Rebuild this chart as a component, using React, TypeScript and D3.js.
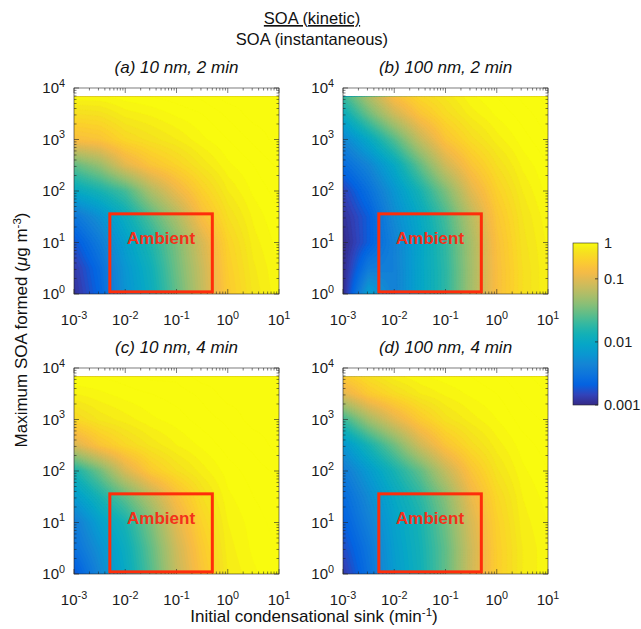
import React from "react";
import * as d3 from "d3";

// ---- data ----
const xTickExps = [-3, -2, -1, 0, 1];
const yTickExps = [0, 1, 2, 3, 4];
// grid positions (log10 of sink, min^-1) and (log10 of max SOA, ug m^-3)
const sinkGridLog10 = [-3, -2.5, -2, -1.5, -1, -0.5, 0, 0.5, 1];
const soaGridLog10 = [0, 0.5, 1, 1.5, 2, 2.5, 3, 3.5, 3.83];
const panelTitles = ["(a) 10 nm, 2 min", "(b) 100 nm, 2 min", "(c) 10 nm, 4 min", "(d) 100 nm, 4 min"];
const colorbarTickValues = [0.001, 0.01, 0.1];
const colorbarTickLabels = ["0.001", "0.01", "0.1"];
const colorbarTopLabel = "1";
const colorbarMax = 0.37;
const ambientSink = [0.005, 0.5];
const ambientSOA = [1.1, 36];

// log10(SOA kinetic / SOA instantaneous); rows from SOA=1 (bottom) upward, columns along sink
const ratioLog10A = [
  [-2.95, -2.65, -2.23, -1.95, -1.55, -1.15, -0.75, -0.55, -0.45],
  [-2.9, -2.6, -2.2, -1.9, -1.5, -1.12, -0.72, -0.53, -0.44],
  [-2.75, -2.45, -2.1, -1.8, -1.45, -1.05, -0.68, -0.5, -0.42],
  [-2.5, -2.25, -1.95, -1.6, -1.25, -0.85, -0.6, -0.47, -0.4],
  [-2.0, -1.85, -1.65, -1.25, -0.95, -0.7, -0.52, -0.43, -0.38],
  [-1.55, -1.35, -1.0, -0.8, -0.68, -0.55, -0.45, -0.4, -0.35],
  [-0.85, -0.8, -0.65, -0.58, -0.52, -0.45, -0.4, -0.35, -0.3],
  [-0.6, -0.58, -0.5, -0.47, -0.43, -0.4, -0.35, -0.3, -0.3],
  [-0.45, -0.45, -0.42, -0.4, -0.38, -0.35, -0.3, -0.3, -0.3],
];
const ratioLog10B = [
  [-3.0, -2.1, -2.4, -2.05, -1.75, -1.3, -0.85, -0.6, -0.48],
  [-3.0, -2.45, -2.4, -2.05, -1.75, -1.3, -0.85, -0.6, -0.48],
  [-3.0, -2.7, -2.38, -2.05, -1.72, -1.28, -0.83, -0.58, -0.47],
  [-2.95, -2.7, -2.3, -2.0, -1.65, -1.2, -0.78, -0.56, -0.45],
  [-2.85, -2.55, -2.2, -1.85, -1.45, -1.0, -0.7, -0.52, -0.42],
  [-2.6, -2.35, -2.0, -1.55, -1.1, -0.8, -0.6, -0.47, -0.4],
  [-2.35, -2.0, -1.6, -1.15, -0.8, -0.62, -0.5, -0.42, -0.36],
  [-1.95, -1.5, -1.1, -0.8, -0.62, -0.5, -0.43, -0.38, -0.33],
  [-1.7, -1.25, -0.85, -0.65, -0.55, -0.45, -0.4, -0.35, -0.3],
];
const ratioLog10C = [
  [-2.75, -2.35, -2.0, -1.6, -1.15, -0.8, -0.52, -0.45, -0.4],
  [-2.55, -2.25, -1.95, -1.55, -1.1, -0.75, -0.5, -0.43, -0.4],
  [-2.45, -2.1, -1.85, -1.45, -1.0, -0.68, -0.48, -0.42, -0.38],
  [-2.15, -1.85, -1.55, -1.2, -0.85, -0.6, -0.45, -0.4, -0.37],
  [-1.85, -1.5, -1.05, -0.75, -0.6, -0.5, -0.42, -0.38, -0.35],
  [-1.05, -0.8, -0.65, -0.55, -0.48, -0.43, -0.38, -0.35, -0.3],
  [-0.65, -0.55, -0.5, -0.45, -0.42, -0.38, -0.35, -0.3, -0.3],
  [-0.48, -0.45, -0.42, -0.4, -0.38, -0.35, -0.3, -0.3, -0.3],
  [-0.4, -0.4, -0.38, -0.35, -0.35, -0.3, -0.3, -0.3, -0.3],
];
const ratioLog10D = [
  [-2.9, -2.55, -2.15, -1.9, -1.55, -1.1, -0.72, -0.52, -0.45],
  [-2.8, -2.5, -2.12, -1.88, -1.55, -1.1, -0.72, -0.52, -0.45],
  [-2.7, -2.4, -2.08, -1.85, -1.5, -1.05, -0.7, -0.5, -0.44],
  [-2.6, -2.3, -2.0, -1.75, -1.4, -0.95, -0.65, -0.48, -0.42],
  [-2.45, -2.15, -1.85, -1.55, -1.15, -0.8, -0.57, -0.45, -0.4],
  [-2.2, -1.85, -1.5, -1.1, -0.8, -0.62, -0.5, -0.42, -0.38],
  [-1.7, -1.3, -1.0, -0.75, -0.58, -0.5, -0.44, -0.38, -0.35],
  [-1.0, -0.75, -0.62, -0.52, -0.47, -0.43, -0.4, -0.35, -0.32],
  [-0.75, -0.6, -0.5, -0.45, -0.42, -0.4, -0.37, -0.33, -0.3],
];

// parula colormap (every 4th entry of MATLAB's 64-entry table)
const parulaStops = [
  [0.2081, 0.1663, 0.5292], [0.1959, 0.2645, 0.7279], [0.0117, 0.3875, 0.882], [0.0498, 0.4586, 0.8641],
  [0.0793, 0.52, 0.8312], [0.0343, 0.5966, 0.8199], [0.0228, 0.6535, 0.7768], [0.0843, 0.6928, 0.7062],
  [0.2178, 0.725, 0.6193], [0.3953, 0.7459, 0.5244], [0.5709, 0.7485, 0.4494], [0.7184, 0.7411, 0.3905],
  [0.8507, 0.7299, 0.336], [0.9739, 0.7314, 0.2666], [0.988, 0.8066, 0.1794], [0.9589, 0.8949, 0.1132],
  [0.9763, 0.9831, 0.0538],
];
const parulaPos = parulaStops.map((_, i) => Math.min(1, (i * 4) / 63));
const parulaColors = parulaStops.map((c) => d3.rgb(c[0] * 255, c[1] * 255, c[2] * 255).formatHex());
const parula = d3.scaleLinear<string>().domain(parulaPos).range(parulaColors).interpolate(d3.interpolateRgb).clamp(true);

const FONT = "'Liberation Sans', Arial, Helvetica, sans-serif";
const AX = "#262626";

const PW = 205;
const PH = 206;
const layout = [
  { x0: 74, y0: 88 },
  { x0: 343, y0: 88 },
  { x0: 74, y0: 368 },
  { x0: 343, y0: 368 },
];
const panelData = [ratioLog10A, ratioLog10B, ratioLog10C, ratioLog10D];

const colorPos = d3.scaleLog().domain([colorbarTickValues[0], colorbarMax]).range([0, 1]).clamp(true);

function sampleGrid(grid: number[][], lx: number, ly: number) {
  const xs = sinkGridLog10, ys = soaGridLog10;
  let i = d3.bisectRight(xs, lx) - 1;
  i = Math.max(0, Math.min(xs.length - 2, i));
  let j = d3.bisectRight(ys, ly) - 1;
  j = Math.max(0, Math.min(ys.length - 2, j));
  const tx = Math.max(0, Math.min(1, (lx - xs[i]) / (xs[i + 1] - xs[i])));
  const ty = Math.max(0, Math.min(1, (ly - ys[j]) / (ys[j + 1] - ys[j])));
  const a = grid[j][i], b = grid[j][i + 1], c = grid[j + 1][i], d = grid[j + 1][i + 1];
  return (a * (1 - tx) + b * tx) * (1 - ty) + (c * (1 - tx) + d * tx) * ty;
}

const NX = 124;
const NY = 120;
const STEP = 0.04;
const thresholds = d3.range(-3.6, 0.05, STEP);

function Sup({ base, exp, size = 15 }: { base: string; exp: string; size?: number }) {
  return (
    <>
      <tspan>{base}</tspan>
      <tspan dy={-6.5} fontSize={size * 0.72}>{exp}</tspan>
    </>
  );
}

function Panel({ idx }: { idx: number }) {
  const { x0, y0 } = layout[idx];
  const grid = panelData[idx];
  const xScale = d3.scaleLog().domain([10 ** xTickExps[0], 10 ** xTickExps[xTickExps.length - 1]]).range([x0, x0 + PW]);
  const yScale = d3.scaleLog().domain([10 ** yTickExps[0], 10 ** yTickExps[yTickExps.length - 1]]).range([y0 + PH, y0]);
  const lxMin = sinkGridLog10[0], lxMax = sinkGridLog10[sinkGridLog10.length - 1];
  const lyMin = soaGridLog10[0], lyMax = soaGridLog10[soaGridLog10.length - 1];

  const values: number[] = new Array(NX * NY);
  for (let j = 0; j < NY; j++) {
    const ly = lyMax - (j / (NY - 1)) * (lyMax - lyMin);
    for (let i = 0; i < NX; i++) {
      const lx = lxMin + (i / (NX - 1)) * (lxMax - lxMin);
      values[j * NX + i] = sampleGrid(grid, lx, ly);
    }
  }
  const contours = d3.contours().size([NX, NY]).thresholds(thresholds)(values);
  const fx = (gx: number) => {
    const f = Math.max(0, Math.min(NX - 1, gx - 0.5)) / (NX - 1);
    return xScale(10 ** (lxMin + f * (lxMax - lxMin)));
  };
  const fy = (gy: number) => {
    const f = Math.max(0, Math.min(NY - 1, gy - 0.5)) / (NY - 1);
    return yScale(10 ** (lyMax - f * (lyMax - lyMin)));
  };
  const proj = d3.geoTransform({
    point: function (this: any, x: number, y: number) {
      this.stream.point(fx(x), fy(y));
    },
  });
  const path = d3.geoPath(proj);
  const clipId = `clip-${idx}`;
  const dataTop = yScale(10 ** lyMax);

  const xMinor = xScale.ticks();
  const yMinor = yScale.ticks();
  const isMajor = (v: number) => Math.abs(Math.log10(v) - Math.round(Math.log10(v))) < 1e-6;

  const bx0 = xScale(ambientSink[0]), bx1 = xScale(ambientSink[1]);
  const by0 = yScale(ambientSOA[1]), by1 = yScale(ambientSOA[0]);

  return (
    <g>
      <defs>
        <clipPath id={clipId}>
          <rect x={x0} y={dataTop} width={PW} height={y0 + PH - dataTop} />
        </clipPath>
      </defs>
      <g clipPath={`url(#${clipId})`}>
        {contours.map((c, k) => {
          const mid = c.value + STEP / 2;
          return (
            <path key={k} d={path(c as any) || ""} fill={parula(colorPos(10 ** mid))} stroke={parula(colorPos(10 ** mid))} strokeWidth={0.3} />
          );
        })}
      </g>
      {/* ticks */}
      <g stroke={AX} strokeWidth={0.6}>
        {xMinor.map((v, k) => {
          const x = xScale(v);
          const L = isMajor(v) ? 5 : 2.5;
          return (
            <g key={"xt" + k}>
              <line x1={x} x2={x} y1={y0 + PH} y2={y0 + PH - L} />
              <line x1={x} x2={x} y1={y0} y2={y0 + L} />
            </g>
          );
        })}
        {yMinor.map((v, k) => {
          const y = yScale(v);
          const L = isMajor(v) ? 5 : 2.5;
          return (
            <g key={"yt" + k}>
              <line x1={x0} x2={x0 + L} y1={y} y2={y} />
              <line x1={x0 + PW} x2={x0 + PW - L} y1={y} y2={y} />
            </g>
          );
        })}
      </g>
      <rect x={x0} y={y0} width={PW} height={PH} fill="none" stroke={AX} strokeWidth={0.6} />
      {/* ambient box */}
      <rect x={bx0} y={by0} width={bx1 - bx0} height={by1 - by0} fill="none" stroke="#ff2d0a" strokeWidth={3} />
      <text x={(bx0 + bx1) / 2} y={by0 + 30} textAnchor="middle" fontFamily={FONT} fontWeight="bold" fontSize={17} fill="#f4301a">
        Ambient
      </text>
      {/* tick labels */}
      <g fontFamily={FONT} fontSize={15} fill="#1a1a1a">
        {xTickExps.map((e) => (
          <text key={"xl" + e} x={xScale(10 ** e)} y={y0 + PH + 31} textAnchor="middle">
            <Sup base="10" exp={String(e)} />
          </text>
        ))}
        {yTickExps.map((e) => (
          <text key={"yl" + e} x={x0 - 9} y={yScale(10 ** e) + 5} textAnchor="end">
            <Sup base="10" exp={String(e)} />
          </text>
        ))}
      </g>
      <text x={x0 + PW / 2} y={y0 - 15} textAnchor="middle" fontFamily={FONT} fontStyle="italic" fontSize={17} fill="#111">
        {panelTitles[idx]}
      </text>
    </g>
  );
}

function Colorbar() {
  const cx = 573, cw = 25, cyTop = 243, cyBot = 405;
  const cScale = d3.scaleLog().domain([colorbarTickValues[0], colorbarMax]).range([cyBot, cyTop]);
  const stops = d3.range(0, 1.0001, 1 / 32);
  return (
    <g>
      <defs>
        <linearGradient id="cbar" x1="0" y1="1" x2="0" y2="0">
          {stops.map((t, k) => (
            <stop key={k} offset={t} stopColor={parula(t)} />
          ))}
        </linearGradient>
      </defs>
      <rect x={cx} y={cyTop} width={cw} height={cyBot - cyTop} fill="url(#cbar)" stroke={AX} strokeWidth={0.6} />
      <g fontFamily={FONT} fontSize={14.5} fill="#1a1a1a">
        {colorbarTickValues.map((v, k) => (
          <g key={k}>
            <line x1={cx + cw} x2={cx + cw - 3} y1={cScale(v)} y2={cScale(v)} stroke={AX} strokeWidth={0.8} />
            <text x={cx + cw + 6} y={cScale(v) + 5}>{colorbarTickLabels[k]}</text>
          </g>
        ))}
        <text x={cx + cw + 6} y={cyTop + 5}>{colorbarTopLabel}</text>
      </g>
    </g>
  );
}

export default function App() {
  return (
    <svg width={641} height={629} style={{ display: "block", position: "absolute", left: 0, top: 0, background: "#fff" }}>
      <rect x={0} y={0} width={641} height={629} fill="#fff" />
      <g fontFamily={FONT} fontSize={16.5} fill="#111" textAnchor="middle">
        <text x={312} y={24} textDecoration="underline">SOA (kinetic)</text>
        <text x={312} y={45}>SOA (instantaneous)</text>
      </g>
      {layout.map((_, i) => (
        <Panel key={i} idx={i} />
      ))}
      <Colorbar />
      <text transform="translate(27,330) rotate(-90)" textAnchor="middle" fontFamily={FONT} fontSize={17} fill="#111">
        <tspan>Maximum SOA formed (</tspan>
        <tspan fontStyle="italic">μ</tspan>
        <tspan>g m</tspan>
        <tspan dy={-6.5} fontSize={11.5}>-3</tspan>
        <tspan dy={6.5}>)</tspan>
      </text>
      <text x={314} y={622} textAnchor="middle" fontFamily={FONT} fontSize={17} fill="#111">
        <tspan>Initial condensational sink (min</tspan>
        <tspan dy={-6.5} fontSize={11.5}>-1</tspan>
        <tspan dy={6.5}>)</tspan>
      </text>
    </svg>
  );
}
